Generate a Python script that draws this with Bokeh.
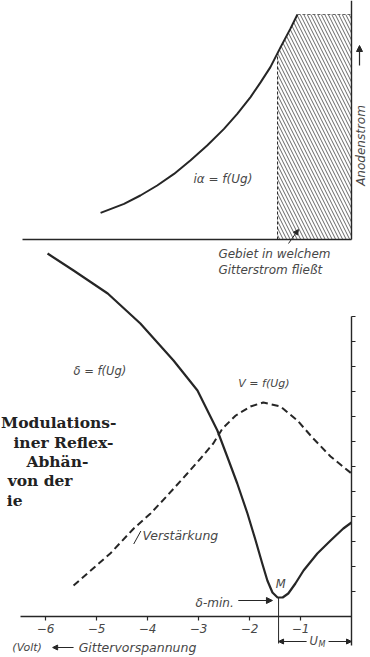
import numpy as np
from bokeh.plotting import figure
from bokeh.models import Range1d, LinearAxis, FixedTicker, Arrow, NormalHead
from bokeh.core.properties import value
from bokeh.embed import file_html
from bokeh.resources import INLINE

# ---------------- data ----------------
# upper panel: anode current ia = f(Ug)
ug_ia = [-4.92, -4.46, -4.14, -3.81, -3.48, -3.16, -2.83, -2.50, -2.24,
         -1.98, -1.78, -1.59, -1.39, -1.20, -1.06]
ia = [1.33, 1.78, 2.20, 2.70, 3.28, 3.95, 4.70, 5.53, 6.28,
      7.12, 7.87, 8.62, 9.62, 10.53, 11.25]
ug_grid_current = -1.45          # grid current starts flowing here

# lower panel: modulation distortion delta = f(Ug)
ug_delta = [-5.96, -5.45, -4.78, -4.14, -3.49, -3.02, -2.63, -2.43, -2.24,
            -2.04, -1.88, -1.75, -1.65, -1.55, -1.45, -1.35, -1.24, -1.10,
            -0.94, -0.67, -0.41, -0.16, 0.0]
delta = [14.52, 13.84, 12.92, 11.72, 10.24, 9.04, 7.44, 6.36, 5.32,
         4.12, 3.04, 2.12, 1.44, 0.96, 0.76, 0.76, 0.92, 1.32,
         1.84, 2.52, 3.04, 3.52, 3.76]

# lower panel: amplification V = f(Ug)
ug_v = [-5.45, -4.73, -4.27, -3.94, -3.61, -3.22, -2.96, -2.71, -2.53,
        -2.27, -1.98, -1.73, -1.39, -1.06, -0.75, -0.41, 0.0]
v = [1.24, 2.52, 3.52, 4.12, 4.84, 5.72, 6.32, 6.92, 7.52,
     8.04, 8.40, 8.56, 8.40, 7.84, 7.12, 6.40, 5.72]

ug_M = -1.43                      # point M (delta minimum)
x_ticks = [-6, -5, -4, -3, -2, -1]
x_tick_labels = ["\u22126", "\u22125", "\u22124", "\u22123", "\u22122", "\u22121"]
right_ticks = [1, 2, 3, 4, 5, 6, 7, 8, 9, 10, 11, 12]

caption_lines = ["Modulations-", "iner Reflex-", "Abh\u00e4n-", "von der", "ie"]

# ---------------- styling ----------------
INK = "#262626"
TXT = "#474747"
FONT = value("DejaVu Sans")

p = figure(width=370, height=657,
           x_range=Range1d(-6.8824, 0.3725), y_range=Range1d(-1.64, 24.64),
           x_axis_type=None, y_axis_type=None,
           toolbar_location=None, output_backend="svg",
           min_border=0, outline_line_color=None,
           background_fill_color="white", border_fill_color="white")
p.extra_y_ranges = {"ia": Range1d(-20.9, 11.95)}
p.xgrid.visible = False
p.ygrid.visible = False

def plain_axis(**kw):
    return LinearAxis(axis_line_color=INK, axis_line_width=1.4,
                      major_tick_line_color=INK, major_tick_line_width=1.2,
                      minor_tick_in=0, minor_tick_out=0,
                      major_label_text_color=None, **kw)

# lower Ug axis with ticks
xax = LinearAxis(ticker=FixedTicker(ticks=x_ticks), fixed_location=0,
                 bounds=(-6.49, 0), axis_line_color=INK, axis_line_width=1.4,
                 major_tick_out=4, major_tick_in=0, major_tick_line_color=INK,
                 major_tick_line_width=1.2, minor_tick_in=0, minor_tick_out=0,
                 major_label_standoff=3, major_label_text_font="DejaVu Sans",
                 major_label_text_font_style="italic",
                 major_label_text_font_size="12px", major_label_text_color=TXT,
                 major_label_overrides={t: l for t, l in zip(x_ticks, x_tick_labels)})
p.add_layout(xax, "below")

# upper baseline
top_base = plain_axis(y_range_name="ia", fixed_location=0, bounds=(-6.45, 0),
                      ticker=FixedTicker(ticks=[]), major_tick_out=0, major_tick_in=0)
p.add_layout(top_base, "below")

# lower right scale
rax = plain_axis(fixed_location=0, bounds=(-1.16, 12),
                 ticker=FixedTicker(ticks=right_ticks), major_tick_out=4, major_tick_in=0)
p.add_layout(rax, "right")

# upper right axis (Anodenstrom)
tax = plain_axis(y_range_name="ia", fixed_location=0, bounds=(0, 12),
                 ticker=FixedTicker(ticks=[]), major_tick_out=0, major_tick_in=0)
p.add_layout(tax, "right")

# ---------------- upper panel ----------------
ia_at_grid = float(np.interp(ug_grid_current, ug_ia, ia))
ia_top = ia[-1]
curve_x = [x for x in ug_ia if x > ug_grid_current]
curve_y = [y for x, y in zip(ug_ia, ia) if x > ug_grid_current]
hx = [ug_grid_current, 0, 0] + curve_x[::-1] + [ug_grid_current]
hy = [0, 0, ia_top] + curve_y[::-1] + [ia_at_grid]
p.patch(hx, hy, y_range_name="ia", fill_alpha=0, line_color=None,
        hatch_pattern="\\", hatch_scale=7, hatch_weight=0.9, hatch_color="#555555")
p.line([ug_grid_current, ug_grid_current], [0, ia_at_grid], y_range_name="ia",
       line_color=INK, line_width=1, line_dash="3 2")
p.line([ug_ia[-1], 0], [ia_top, ia_top], y_range_name="ia",
       line_color="#666666", line_width=1, line_dash="3 2")
p.line(ug_ia, ia, y_range_name="ia", line_color=INK, line_width=2, line_join="round")

p.text(x=[-3.10], y=[3.05], text=["i\u03b1 = f(Ug)"], y_range_name="ia",
       text_font=FONT, text_font_style=value("italic"), text_font_size=value("12px"),
       text_color=TXT, text_align=value("left"), text_baseline=value("middle"))
p.text(x=[0.196], y=[4.7], text=["Anodenstrom"], angle=np.pi / 2, y_range_name="ia",
       text_font=FONT, text_font_style=value("italic"), text_font_size=value("12px"),
       text_color=TXT, text_align=value("center"), text_baseline=value("middle"))
p.add_layout(Arrow(x_start=0.157, y_start=8.7, x_end=0.157, y_end=9.7, y_range_name="ia",
                   line_color=INK, line_width=1.2,
                   end=NormalHead(size=6, line_color=INK, fill_color=INK)))
p.text(x=[-2.61, -2.61], y=[-0.7, -1.5],
       text=["Gebiet  in welchem", "Gitterstrom flie\u00dft"], y_range_name="ia",
       text_font=FONT, text_font_style=value("italic"), text_font_size=value("12px"),
       text_color=TXT, text_align=value("left"), text_baseline=value("middle"))
p.add_layout(Arrow(x_start=-1.235, y_start=-0.2, x_end=-1.04, y_end=0.5, y_range_name="ia",
                   line_color=INK, line_width=1,
                   end=NormalHead(size=5, line_color=INK, fill_color=INK)))

# ---------------- lower panel ----------------
p.line(ug_v, v, line_color=INK, line_width=2, line_dash="7 4")
p.line(ug_delta, delta, line_color=INK, line_width=2.2, line_join="round")
d_min = min(delta)
p.line([ug_M, ug_M], [d_min, -1.08], line_color=INK, line_width=1)

p.text(x=[-5.45], y=[9.84], text=["\u03b4 = f(Ug)"],
       text_font=FONT, text_font_style=value("italic"), text_font_size=value("11.5px"),
       text_color=TXT, text_align=value("left"), text_baseline=value("middle"))
p.text(x=[-2.22], y=[9.32], text=["V = f(Ug)"],
       text_font=FONT, text_font_style=value("italic"), text_font_size=value("11px"),
       text_color=TXT, text_align=value("left"), text_baseline=value("middle"))
p.text(x=[-4.10], y=[3.24], text=["Verst\u00e4rkung"],
       text_font=FONT, text_font_style=value("italic"), text_font_size=value("12.5px"),
       text_color=TXT, text_align=value("left"), text_baseline=value("middle"))
p.segment(x0=[-4.27], y0=[2.9], x1=[-4.13], y1=[3.42], line_color=INK, line_width=1)
p.text(x=[-1.39], y=[1.32], text=["M"],
       text_font=FONT, text_font_style=value("italic"), text_font_size=value("11.5px"),
       text_color=TXT, text_align=value("center"), text_baseline=value("middle"))
p.text(x=[-2.31], y=[0.56], text=["\u03b4-min."],
       text_font=FONT, text_font_style=value("italic"), text_font_size=value("12px"),
       text_color=TXT, text_align=value("right"), text_baseline=value("middle"))
p.add_layout(Arrow(x_start=-2.22, y_start=0.64, x_end=-1.55, y_end=0.64,
                   line_color=INK, line_width=1,
                   end=NormalHead(size=6, line_color=INK, fill_color=INK)))

# U_M dimension
p.add_layout(Arrow(x_start=-0.88, y_start=-1.0, x_end=ug_M, y_end=-1.0,
                   line_color=INK, line_width=1,
                   end=NormalHead(size=5, line_color=INK, fill_color=INK)))
p.add_layout(Arrow(x_start=-0.45, y_start=-1.0, x_end=0, y_end=-1.0,
                   line_color=INK, line_width=1,
                   end=NormalHead(size=5, line_color=INK, fill_color=INK)))
p.text(x=[-0.74], y=[-0.98], text=["U"],
       text_font=FONT, text_font_style=value("italic"), text_font_size=value("11.5px"),
       text_color=TXT, text_align=value("center"), text_baseline=value("middle"))
p.text(x=[-0.58], y=[-1.1], text=["M"],
       text_font=FONT, text_font_style=value("italic"), text_font_size=value("8px"),
       text_color=TXT, text_align=value("center"), text_baseline=value("middle"))

# axis title
p.text(x=[-6.65], y=[-1.24], text=["(Volt)"],
       text_font=FONT, text_font_style=value("italic"), text_font_size=value("11px"),
       text_color=TXT, text_align=value("left"), text_baseline=value("middle"))
p.add_layout(Arrow(x_start=-5.45, y_start=-1.24, x_end=-5.86, y_end=-1.24,
                   line_color=INK, line_width=1.2,
                   end=NormalHead(size=5, line_color=INK, fill_color=INK)))
p.text(x=[-5.35], y=[-1.24], text=["Gittervorspannung"],
       text_font=FONT, text_font_style=value("italic"), text_font_size=value("12.5px"),
       text_color=TXT, text_align=value("left"), text_baseline=value("middle"))

# cut-off caption on the left
p.text(x=[-4.61, -4.67, -5.16, -5.47, -6.45], y=[7.76, 6.96, 6.2, 5.44, 4.64],
       text=caption_lines, text_font=value("DejaVu Serif"),
       text_font_style=value("bold"), text_font_size=value("15.5px"),
       text_color="#222222", text_align=value("right"), text_baseline=value("middle"))

open("out.html", "w").write(file_html(p, INLINE))
